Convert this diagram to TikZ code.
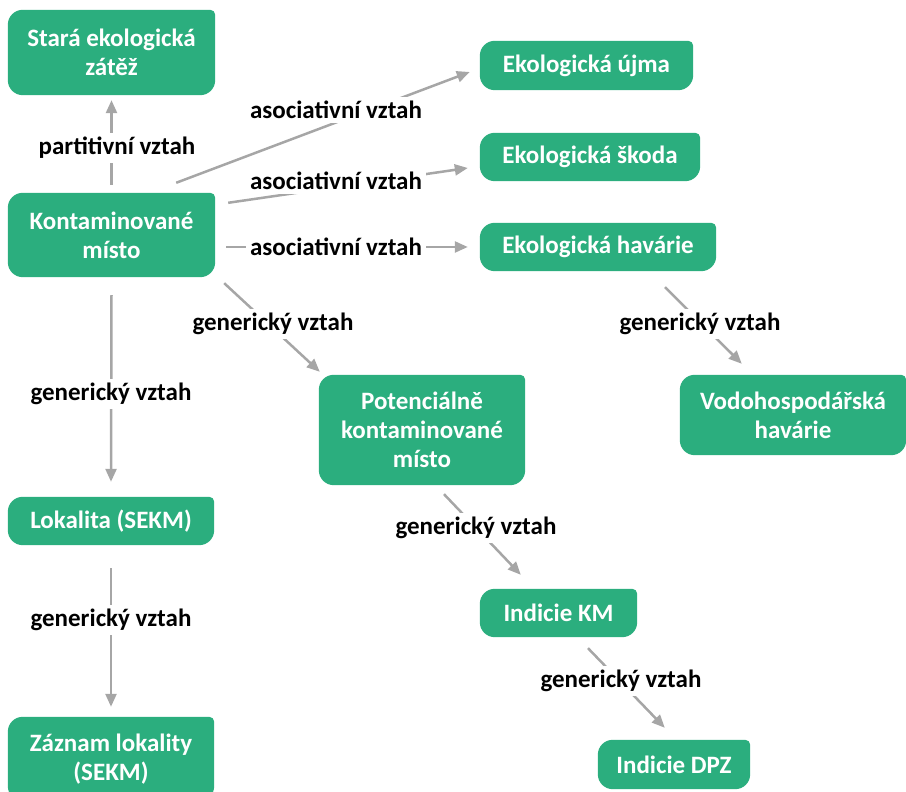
\documentclass[tikz,border=0pt]{standalone}
\usepackage{fontspec}
\setmainfont{Carlito}
\usetikzlibrary{arrows.meta,backgrounds}
\definecolor{gcol}{RGB}{43,174,126}
\definecolor{acol}{RGB}{166,166,166}
\newcommand{\greenbox}[1]{%
  \fill[gcol] ([xshift=15pt]#1.south west) -- ([xshift=-15pt]#1.south east)
    arc[start angle=-90,end angle=0,radius=15pt] -- ([yshift=-5pt]#1.north east)
    arc[start angle=0,end angle=90,radius=5pt] -- ([xshift=15pt]#1.north west)
    arc[start angle=90,end angle=180,radius=15pt] -- ([yshift=15pt]#1.south west)
    arc[start angle=180,end angle=270,radius=15pt] -- cycle;}
\tikzset{
  gbox/.style={rectangle, inner sep=0pt, text=white, align=center,
    font=\bfseries\fontsize{25}{29}\selectfont},
  lbl/.style={fill=white, inner sep=4pt, text=black,
    font=\bfseries\fontsize{25}{29}\selectfont},
  arr/.style={draw=acol, line width=2.5pt, -{Triangle[length=13pt,width=11pt]}}
}
\begin{document}
\begin{tikzpicture}[x=1pt,y=1pt]
\useasboundingbox (0,0) rectangle (906,792);
\clip (0,0) rectangle (906,792);
% nodes
\node[gbox, minimum width=207pt, minimum height=85pt] (s) at (111.5,739.5) {Stará ekologická\\zátěž};
\node[gbox, minimum width=207pt, minimum height=84pt] (k) at (111.5,557) {Kontaminované\\místo};
\node[gbox, minimum width=213pt, minimum height=49pt] (ujma) at (586.5,726.5) {Ekologická újma};
\node[gbox, minimum width=220pt, minimum height=48pt] (skoda) at (590,635) {Ekologická škoda};
\node[gbox, minimum width=236pt, minimum height=48pt] (hav) at (598,545) {Ekologická havárie};
\node[gbox, minimum width=206pt, minimum height=110pt] (pot) at (422,362) {Potenciálně\\kontaminované\\místo};
\node[gbox, minimum width=226pt, minimum height=80pt] (vod) at (793,377) {Vodohospodářská\\havárie};
\node[gbox, minimum width=206pt, minimum height=48pt] (lok) at (111,271) {Lokalita (SEKM)};
\node[gbox, minimum width=206pt, minimum height=84pt] (zaz) at (111,33) {Záznam lokality\\(SEKM)};
\node[gbox, minimum width=157pt, minimum height=48pt] (ikm) at (558.5,179) {Indicie KM};
\node[gbox, minimum width=152pt, minimum height=49pt] (idpz) at (674,27.5) {Indicie DPZ};
\begin{pgfonlayer}{background}
\foreach \n in {s,k,ujma,skoda,hav,pot,vod,lok,zaz,ikm,idpz}{\greenbox{\n}}
\end{pgfonlayer}
% connectors
\draw[arr] ([yshift=8pt]k.north) -- ([yshift=-5pt]s.south);
\draw[arr] ([xshift=-39pt,yshift=10pt]k.north east) -- ([xshift=-10pt,yshift=-6.5pt]ujma.west);
\draw[arr] ([xshift=13pt,yshift=-10pt]k.north east) -- ([xshift=-12pt,yshift=-11pt]skoda.west);
\draw[arr] ([xshift=11pt,yshift=-12pt]k.east) -- ([xshift=-12pt]hav.west);
\draw[arr] ([xshift=9pt,yshift=-6pt]k.south east) -- ([xshift=1pt,yshift=3pt]pot.north west);
\draw[arr] ([yshift=-18pt]k.south) -- ([yshift=15pt]lok.north);
\draw[arr] ([yshift=-23pt]lok.south) -- ([yshift=10pt]zaz.north);
\draw[arr] ([xshift=22pt,yshift=-9pt]pot.south) -- ([xshift=41pt,yshift=14pt]ikm.north west);
\draw[arr] ([xshift=29.5pt,yshift=-11pt]ikm.south) -- ([xshift=67pt,yshift=12pt]idpz.north west);
\draw[arr] ([xshift=67pt,yshift=-16pt]hav.south) -- ([xshift=62pt,yshift=11pt]vod.north west);
% labels
\node[lbl] (l1) at (117,644) {partitivní vztah};
\node[lbl] (l2) at (336,682) {asociativní vztah};
\node[lbl] (l3) at (336,611) {asociativní vztah};
\node[lbl] (l4) at (336,545) {asociativní vztah};
\node[lbl] (l5) at (273,468) {generický vztah};
\node[lbl] (l6) at (111,398) {generický vztah};
\node[lbl] (l7) at (111,172) {generický vztah};
\node[lbl] (l8) at (476,264) {generický vztah};
\node[lbl] (l9) at (621,111) {generický vztah};
\node[lbl] (l10) at (700,468) {generický vztah};
\end{tikzpicture}
\end{document}
